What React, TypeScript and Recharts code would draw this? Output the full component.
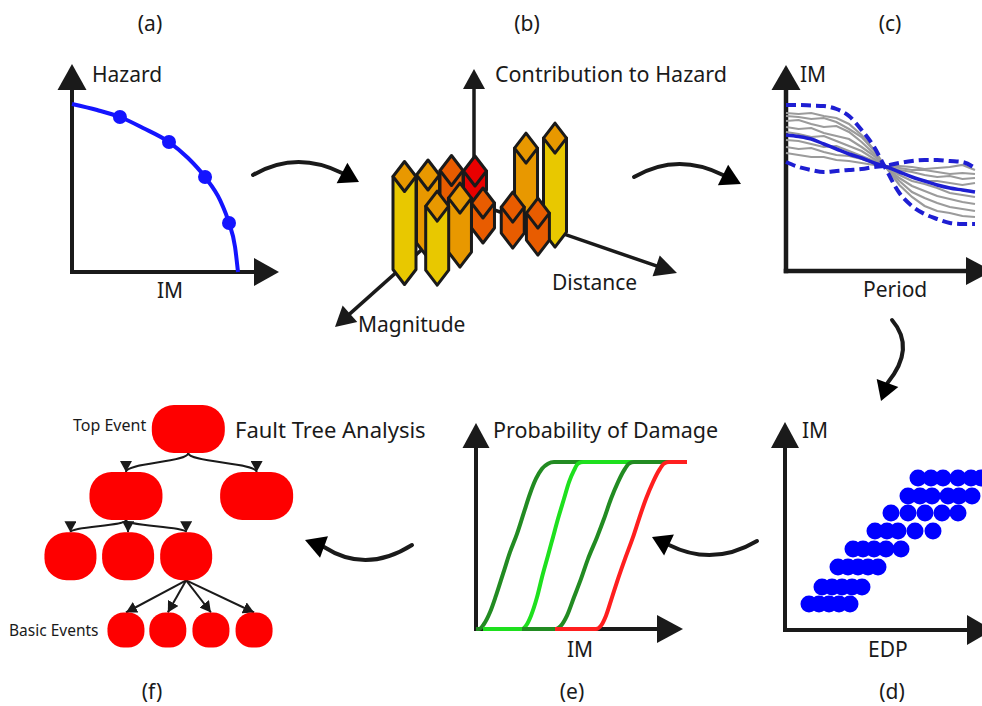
import { ComposedChart, Line, Scatter, XAxis, YAxis, ReferenceLine, ReferenceDot } from 'recharts';

const FONT = '"Noto Sans", "DejaVu Sans", sans-serif';
const INK = '#1a1a1a';

// (a) seismic hazard curve
const hazardIM = [0, 0.137, 0.262, 0.388, 0.53, 0.634, 0.727, 0.809, 0.858, 0.891, 0.907];
const hazardRate = [0.918, 0.885, 0.847, 0.787, 0.71, 0.623, 0.519, 0.393, 0.268, 0.137, 0];
const hazardSampleIM = [0.262, 0.53, 0.727, 0.858];
const hazardSampleRate = [0.847, 0.71, 0.519, 0.268];

// (b) disaggregation bins
const barMagnitude = [3, 2, 1, 0, 2.8, 2.07, 1.15, 1.11, 1.16, 0.45, 0.79];
const barDistance = [0, 0, 0, 0, 1, 1.2, 1.25, 2.28, 3.22, 2.2, 3.52];
const barContribution = [93, 68, 46, 19, 64, 54, 25, 26, 27, 67, 94];
const barBand = ['high', 'mid', 'low', 'peak', 'high', 'mid', 'low', 'low', 'low', 'mid', 'high'];

// (c) response spectra of selected records
const periods = [0, 0.2, 0.4, 0.6, 0.8, 1.0, 1.2, 1.4, 1.56, 1.8, 2.0, 2.2, 2.4, 2.6, 2.8, 3.0];
const spectrumUpper = [1.66, 1.66, 1.655, 1.65, 1.62, 1.55, 1.41, 1.24, 1.05, 0.78, 0.65, 0.57, 0.52, 0.48, 0.47, 0.47];
const spectrumLower = [1.09, 1.04, 1.01, 0.99, 1.0, 1.01, 1.02, 1.04, 1.05, 1.08, 1.1, 1.11, 1.11, 1.1, 1.09, 1.03];
const spectrumMean = [1.36, 1.345, 1.32, 1.27, 1.22, 1.17, 1.13, 1.08, 1.05, 0.99, 0.94, 0.9, 0.86, 0.83, 0.81, 0.79];
const recordSpectra = [
  [1.58, 1.57, 1.58, 1.55, 1.53, 1.47, 1.36, 1.21, 1.06, 0.86, 0.74, 0.65, 0.6, 0.58, 0.55, 0.54],
  [1.55, 1.54, 1.52, 1.53, 1.49, 1.42, 1.34, 1.2, 1.05, 0.9, 0.79, 0.73, 0.68, 0.64, 0.62, 0.6],
  [1.5, 1.51, 1.47, 1.44, 1.45, 1.39, 1.29, 1.17, 1.05, 0.93, 0.85, 0.8, 0.75, 0.72, 0.69, 0.67],
  [1.44, 1.42, 1.43, 1.38, 1.35, 1.32, 1.24, 1.15, 1.05, 0.96, 0.9, 0.87, 0.83, 0.78, 0.76, 0.74],
  [1.39, 1.37, 1.34, 1.35, 1.3, 1.25, 1.2, 1.12, 1.05, 0.99, 0.94, 0.9, 0.9, 0.88, 0.86, 0.88],
  [1.31, 1.3, 1.27, 1.24, 1.25, 1.2, 1.15, 1.1, 1.05, 1.01, 0.99, 0.96, 0.94, 0.95, 0.92, 0.93],
  [1.24, 1.22, 1.23, 1.19, 1.16, 1.15, 1.12, 1.08, 1.05, 1.03, 1.01, 1.01, 0.99, 0.97, 0.98, 0.97],
  [1.18, 1.16, 1.14, 1.14, 1.11, 1.1, 1.08, 1.06, 1.05, 1.05, 1.04, 1.02, 1.03, 1.04, 1.06, 1.01],
];

// (d) structural response: one IM level per stripe
const stripeIM = [0.26, 0.43, 0.63, 0.81, 0.99, 1.17, 1.34, 1.52];
const stripeEDP = [
  [0.24, 0.34, 0.44, 0.54, 0.65],
  [0.37, 0.47, 0.57, 0.67, 0.77],
  [0.53, 0.63, 0.73, 0.83, 0.93],
  [0.68, 0.78, 0.89, 1.01, 1.16],
  [0.9, 1.02, 1.13, 1.3, 1.48],
  [1.06, 1.23, 1.4, 1.57, 1.73],
  [1.23, 1.35, 1.47, 1.63, 1.74, 1.87],
  [1.33, 1.46, 1.58, 1.73, 1.86, 1.96],
];

// (e) fragility curves, one per damage state
const damageStates = ['slight', 'moderate', 'extensive', 'complete'];
const fragilityIM = [
  [0, 0.03, 0.08, 0.14, 0.2, 0.27, 0.34, 0.41, 0.48, 0.54, 0.6, 0.66, 0.72, 0.78, 2.11],
  [0.07, 0.42, 0.46, 0.5, 0.55, 0.61, 0.66, 0.72, 0.77, 0.82, 0.88, 0.93, 0.98, 1.02, 1.07, 2.11],
  [0.46, 0.75, 0.8, 0.85, 0.91, 0.98, 1.05, 1.12, 1.21, 1.28, 1.35, 1.42, 1.48, 1.53, 1.58, 2.11],
  [0.79, 1.15, 1.2, 1.25, 1.3, 1.36, 1.42, 1.49, 1.57, 1.63, 1.7, 1.77, 1.83, 1.88, 1.93, 2.11],
];
const fragilityProb = [
  [0, 0, 0.03, 0.1, 0.2, 0.33, 0.46, 0.57, 0.7, 0.81, 0.9, 0.96, 0.99, 1, 1],
  [0, 0, 0, 0.02, 0.08, 0.19, 0.31, 0.44, 0.55, 0.66, 0.78, 0.88, 0.95, 0.99, 1, 1],
  [0, 0, 0, 0.02, 0.08, 0.19, 0.3, 0.42, 0.55, 0.66, 0.78, 0.88, 0.95, 0.99, 1, 1],
  [0, 0, 0, 0.02, 0.08, 0.19, 0.3, 0.42, 0.55, 0.66, 0.78, 0.88, 0.95, 0.99, 1, 1],
];

// (f) fault tree
const treeNodes = ['top', 'g1', 'g2', 'g11', 'g12', 'g13', 'b1', 'b2', 'b3', 'b4'];
const treeParent = ['', 'top', 'top', 'g1', 'g1', 'g1', 'g13', 'g13', 'g13', 'g13'];
const treeLevel = [0, 1, 1, 2, 2, 2, 3, 3, 3, 3];
const treeColumn = [1.46, 0, 3.06, -1.3, 0.05, 1.41, 0, 0.98, 1.99, 3];
const levelDepth = [0, 1, 1.9, 3];

const pts = (xs: number[], ys: number[]) => xs.map((x, i) => ({ x, y: ys[i] }));

// filled triangle whose base is centred on the reference point
function head(angle: number, len: number, half: number) {
  return (p: any) => {
    const a = (angle * Math.PI) / 180;
    const ux = Math.cos(a);
    const uy = Math.sin(a);
    const bx = p.cx - ux;
    const by = p.cy - uy;
    const tip = [bx + ux * (len + 1), by + uy * (len + 1)];
    const b1 = [bx - uy * half, by + ux * half];
    const b2 = [bx + uy * half, by - ux * half];
    return <polygon points={`${tip} ${b1} ${b2}`} fill={INK} />;
  };
}

const dot = (r: number, fill: string) => (p: any) => <circle cx={p.cx} cy={p.cy} r={r} fill={fill} />;

const placed = (left: number, top: number) => ({ position: 'absolute' as const, left, top });

function HazardPanel() {
  const blue = '#1414ff';
  return (
    <div style={placed(40, 50)}>
      <ComposedChart width={260} height={240} margin={{ top: 39, right: 45, bottom: 18, left: 32 }}>
        <XAxis type="number" dataKey="x" domain={[0, 1]} hide />
        <YAxis type="number" dataKey="y" domain={[0, 1]} hide />
        <ReferenceLine segment={[{ x: 0, y: 0 }, { x: 1, y: 0 }]} stroke={INK} strokeWidth={4} strokeLinecap="square" />
        <ReferenceLine segment={[{ x: 0, y: 0 }, { x: 0, y: 1 }]} stroke={INK} strokeWidth={4} strokeLinecap="square" />
        <ReferenceDot x={1} y={0} shape={head(0, 24, 14)} />
        <ReferenceDot x={0} y={1} shape={head(-90, 25, 14.5)} />
        <Line data={pts(hazardIM, hazardRate)} dataKey="y" type="monotone" stroke={blue} strokeWidth={4} dot={false} isAnimationActive={false} />
        <Scatter data={pts(hazardSampleIM, hazardSampleRate)} dataKey="y" shape={dot(7, blue)} isAnimationActive={false} />
      </ComposedChart>
    </div>
  );
}

// (b) oblique projection of the magnitude/distance grid
const GRID_ORIGIN = { x: 155, y: 140 };
const MAG_STEP = { x: -23.5, y: 26.5 };
const DIST_STEP = { x: 28, y: 6 };
const BAND_FILL: Record<string, { side: string; top: string }> = {
  high: { side: '#e8c800', top: '#e89800' },
  mid: { side: '#e89800', top: '#e89800' },
  low: { side: '#e85c00', top: '#e85c00' },
  peak: { side: '#e80000', top: '#e80000' },
};
const B_W = 380;
const B_H = 300;
const B_PX = 1; // pixels per contribution unit (plot height / y span)

function prism(p: any) {
  const { cx, cy, payload } = p;
  const top = cy - payload.h * B_PX;
  const w = 11.5;
  const d = 15;
  const c = BAND_FILL[payload.band];
  return (
    <g stroke={INK} strokeWidth={3} strokeLinejoin="round">
      <path d={`M${cx - w},${top} L${cx + w},${top} L${cx + w},${cy} L${cx},${cy + d} L${cx - w},${cy} Z`} fill={c.side} />
      <path d={`M${cx},${top - d} L${cx + w},${top} L${cx},${top + d} L${cx - w},${top} Z`} fill={c.top} />
    </g>
  );
}

function DisaggregationPanel() {
  // painter's order: bins further back are drawn first
  const bars = barMagnitude
    .map((m, i) => ({
      x: GRID_ORIGIN.x + m * MAG_STEP.x + barDistance[i] * DIST_STEP.x,
      y: GRID_ORIGIN.y + m * MAG_STEP.y + barDistance[i] * DIST_STEP.y,
      h: barContribution[i],
      band: barBand[i],
    }))
    .sort((a, b) => a.y - b.y);
  const origin = { x: 154, y: 153 };
  const axes = [
    { base: { x: 154, y: 38 }, angle: -90, len: 19 },
    { base: { x: 337.1, y: 216.2 }, angle: 19, len: 21 },
    { base: { x: 29.2, y: 264.4 }, angle: 138.3, len: 19 },
  ];
  return (
    <div style={placed(320, 50)}>
      <ComposedChart width={B_W} height={B_H} margin={{ top: 0, right: 0, bottom: 0, left: 0 }}>
        <XAxis type="number" dataKey="x" domain={[0, B_W]} hide />
        <YAxis type="number" dataKey="y" domain={[0, B_H]} reversed hide />
        {axes.map((a, i) => (
          <ReferenceLine key={'l' + i} segment={[origin, a.base]} stroke={INK} strokeWidth={3.5} zIndex={-10} />
        ))}
        {axes.map((a, i) => (
          <ReferenceDot key={'h' + i} x={a.base.x} y={a.base.y} shape={head(a.angle, a.len, 11)} zIndex={-10} />
        ))}
        <Scatter data={bars} dataKey="y" shape={prism} isAnimationActive={false} />
      </ComposedChart>
    </div>
  );
}

function SpectraPanel() {
  const blue = '#1e1ed2';
  return (
    <div style={placed(740, 50)}>
      <ComposedChart width={260} height={250} margin={{ top: 39, right: 25, bottom: 29, left: 46 }}>
        <XAxis type="number" dataKey="x" domain={[0, 3]} hide />
        <YAxis type="number" dataKey="y" domain={[0, 1.82]} hide />
        <ReferenceLine segment={[{ x: 0, y: 0 }, { x: 2.873, y: 0 }]} stroke={INK} strokeWidth={4.5} strokeLinecap="square" />
        <ReferenceLine segment={[{ x: 0, y: 0 }, { x: 0, y: 1.82 }]} stroke={INK} strokeWidth={4.5} strokeLinecap="square" />
        <ReferenceDot x={2.873} y={0} shape={head(0, 25, 14)} />
        <ReferenceDot x={0} y={1.82} shape={head(-90, 24, 14.5)} />
        {recordSpectra.map((s, i) => (
          <Line key={i} data={pts(periods, s)} dataKey="y" type="linear" stroke="#9b9b9b" strokeWidth={2.2} dot={false} isAnimationActive={false} />
        ))}
        <Line data={pts(periods, spectrumUpper)} dataKey="y" type="monotone" stroke={blue} strokeWidth={4} strokeDasharray="10 5" dot={false} isAnimationActive={false} />
        <Line data={pts(periods, spectrumLower)} dataKey="y" type="monotone" stroke={blue} strokeWidth={4} strokeDasharray="10 5" dot={false} isAnimationActive={false} />
        <Line data={pts(periods, spectrumMean)} dataKey="y" type="monotone" stroke={blue} strokeWidth={3.5} dot={false} isAnimationActive={false} />
      </ComposedChart>
    </div>
  );
}

function DemandPanel() {
  const cloud = stripeIM.flatMap((im, i) => stripeEDP[i].map((edp) => ({ x: edp, y: im })));
  return (
    <div style={placed(740, 400)}>
      <ComposedChart width={260} height={250} margin={{ top: 47, right: 15, bottom: 20, left: 45 }}>
        <XAxis type="number" dataKey="x" domain={[0, 2]} hide />
        <YAxis type="number" dataKey="y" domain={[0, 1.83]} hide />
        <ReferenceLine segment={[{ x: 0, y: 0 }, { x: 1.83, y: 0 }]} stroke={INK} strokeWidth={4} strokeLinecap="square" />
        <ReferenceLine segment={[{ x: 0, y: 0 }, { x: 0, y: 1.83 }]} stroke={INK} strokeWidth={4} strokeLinecap="square" />
        <ReferenceDot x={1.83} y={0} shape={head(0, 25, 15)} />
        <ReferenceDot x={0} y={1.83} shape={head(-90, 25, 14)} />
        <Scatter data={cloud} dataKey="y" shape={dot(8.5, '#0000ff')} isAnimationActive={false} />
      </ComposedChart>
    </div>
  );
}

const FRAGILITY_COLOURS = ['#228b22', '#1ee01e', '#228b22', '#ff1f1f'];

function FragilityPanel() {
  return (
    <div style={placed(440, 400)}>
      <ComposedChart width={270} height={250} margin={{ top: 47, right: 23, bottom: 21, left: 36 }}>
        <XAxis type="number" dataKey="x" domain={[0, 2.11]} hide />
        <YAxis type="number" dataKey="y" domain={[0, 1.09]} hide />
        <ReferenceLine segment={[{ x: 0, y: 0 }, { x: 1.82, y: 0 }]} stroke={INK} strokeWidth={4} strokeLinecap="square" />
        <ReferenceLine segment={[{ x: 0, y: 0 }, { x: 0, y: 1.09 }]} stroke={INK} strokeWidth={4} strokeLinecap="square" />
        <ReferenceDot x={1.82} y={0} shape={head(0, 25, 14)} />
        <ReferenceDot x={0} y={1.09} shape={head(-90, 24, 13.5)} />
        {damageStates.map((ds, i) => (
          <Line key={ds} name={ds} data={pts(fragilityIM[i], fragilityProb[i])} dataKey="y" type="monotone" stroke={FRAGILITY_COLOURS[i]} strokeWidth={4} dot={false} isAnimationActive={false} />
        ))}
      </ComposedChart>
    </div>
  );
}

// node box sizes per tree level, in pixels
const NODE_W = [73, 73, 52, 37];
const NODE_H = [48, 48, 48, 35];
const ROW_PX = 67;

function FaultTreePanel() {
  const nodes = treeNodes.map((id, i) => ({ id, x: treeColumn[i], y: levelDepth[treeLevel[i]], level: treeLevel[i] }));
  const byId: Record<string, any> = Object.fromEntries(nodes.map((n) => [n.id, n]));
  const edges = nodes
    .filter((n, i) => treeParent[i])
    .map((n) => {
      const p = byId[treeParent[treeNodes.indexOf(n.id)]];
      return {
        id: p.id + '-' + n.id,
        curve: n.level < 3 ? 'bumpY' : 'linear',
        data: [
          { x: p.x, y: p.y + NODE_H[p.level] / 2 / ROW_PX },
          { x: n.x, y: n.y - NODE_H[n.level] / 2 / ROW_PX },
        ],
      };
    });
  const box = (p: any) => {
    const w = NODE_W[p.payload.level];
    const h = NODE_H[p.payload.level];
    const r = h * 0.46;
    return <rect x={p.cx - w / 2} y={p.cy - h / 2} width={w} height={h} rx={r} ry={r} fill="#fe0000" />;
  };
  return (
    <div style={placed(0, 390)}>
      <ComposedChart width={440} height={284} margin={{ top: 5.5, right: 13, bottom: 10.5, left: 0 }}>
        <defs>
          <marker id="treeArrow" viewBox="0 0 11 12" refX="11" refY="6" markerWidth="11" markerHeight="12" markerUnits="userSpaceOnUse" orient="auto">
            <path d="M0,0 L11,6 L0,12 Z" fill={INK} />
          </marker>
        </defs>
        <XAxis type="number" dataKey="x" domain={[-2.95, 7.05]} hide />
        <YAxis type="number" dataKey="y" domain={[-0.5, 3.5]} reversed hide />
        {edges.map((e) => (
          <Line key={e.id} data={e.data} dataKey="y" type={e.curve as any} stroke={INK} strokeWidth={2} markerEnd="url(#treeArrow)" dot={false} isAnimationActive={false} />
        ))}
        <Scatter data={nodes} dataKey="y" shape={box} isAnimationActive={false} />
      </ComposedChart>
    </div>
  );
}

// connecting arrows between the stages
const FLOW = [
  { from: [253, 175], ctrl: [296, 150], to: [342, 173], tip: [359, 182] },
  { from: [634, 177], ctrl: [677, 152], to: [723, 175], tip: [741, 184] },
  { from: [892, 320], ctrl: [916, 348], to: [887.5, 383], tip: [881, 401] },
  { from: [757, 541], ctrl: [713, 567], to: [669, 545], tip: [652, 537] },
  { from: [412, 545], ctrl: [366, 574], to: [324, 547], tip: [305, 540] },
];

const LABELS = [
  { t: '(a)', x: 150, y: 31, s: 21, a: 'middle' },
  { t: '(b)', x: 527, y: 31, s: 21, a: 'middle' },
  { t: '(c)', x: 890, y: 31, s: 21, a: 'middle' },
  { t: '(d)', x: 892, y: 699, s: 21, a: 'middle' },
  { t: '(e)', x: 572, y: 699, s: 21, a: 'middle' },
  { t: '(f)', x: 152, y: 699, s: 21, a: 'middle' },
  { t: 'Hazard', x: 92, y: 82, s: 21, a: 'start' },
  { t: 'IM', x: 170, y: 298, s: 21, a: 'middle' },
  { t: 'Contribution to Hazard', x: 495, y: 82, s: 21.5, a: 'start' },
  { t: 'Distance', x: 552, y: 290, s: 21, a: 'start' },
  { t: 'Magnitude', x: 358, y: 332, s: 21, a: 'start' },
  { t: 'IM', x: 800, y: 82, s: 21, a: 'start' },
  { t: 'Period', x: 863, y: 297, s: 21, a: 'start' },
  { t: 'IM', x: 802, y: 438, s: 21, a: 'start' },
  { t: 'EDP', x: 868, y: 657, s: 21, a: 'start' },
  { t: 'Probability of Damage', x: 493, y: 438, s: 21.5, a: 'start' },
  { t: 'IM', x: 580, y: 657, s: 21, a: 'middle' },
  { t: 'Top Event', x: 73, y: 431, s: 16, a: 'start' },
  { t: 'Fault Tree Analysis', x: 235, y: 438, s: 22, a: 'start' },
  { t: 'Basic Events', x: 9, y: 636, s: 15.5, a: 'start' },
];

function Overlay() {
  return (
    <svg width={982} height={706} style={{ position: 'absolute', left: 0, top: 0, pointerEvents: 'none' }}>
      {FLOW.map((f, i) => {
        const dx = f.tip[0] - f.to[0];
        const dy = f.tip[1] - f.to[1];
        const len = Math.hypot(dx, dy);
        const nx = (-dy / len) * 11.5;
        const ny = (dx / len) * 11.5;
        return (
          <g key={i}>
            <path d={`M${f.from} Q${f.ctrl} ${f.to}`} fill="none" stroke={INK} strokeWidth={4} strokeLinecap="round" />
            <polygon points={`${f.tip} ${f.to[0] + nx},${f.to[1] + ny} ${f.to[0] - nx},${f.to[1] - ny}`} fill="#000" />
          </g>
        );
      })}
      {LABELS.map((l, i) => (
        <text key={i} x={l.x} y={l.y} fontSize={l.s} textAnchor={l.a as any} fill={INK} fontFamily={FONT}>
          {l.t}
        </text>
      ))}
    </svg>
  );
}

export default function App() {
  return (
    <div style={{ position: 'absolute', left: 0, top: 0, width: 982, height: 706, overflow: 'hidden', background: '#fff', fontFamily: FONT }}>
      <HazardPanel />
      <DisaggregationPanel />
      <SpectraPanel />
      <DemandPanel />
      <FragilityPanel />
      <FaultTreePanel />
      <Overlay />
    </div>
  );
}
